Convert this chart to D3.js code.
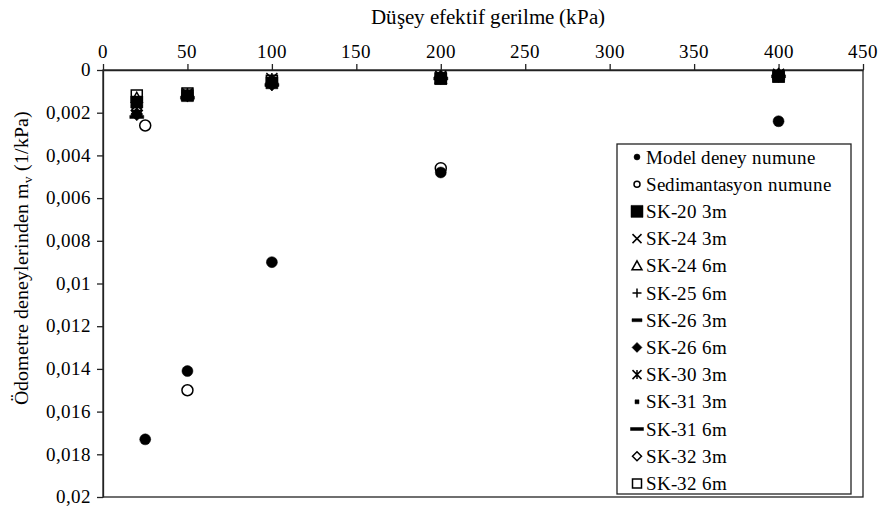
<!DOCTYPE html>
<html>
<head>
<meta charset="utf-8">
<script src="https://d3js.org/d3.v7.min.js"></script>
<style>
  @font-face { font-family: "ChartSerif"; src: local("Liberation Serif"), local("LiberationSerif"), local("LiberationSerif-Regular"), local("Tinos"), local("Times New Roman"); }
</style>
</head>
<body style="margin:0">
<script>

// x values (kPa) and mv values (1/kPa)
var xModel = [25, 50, 100, 200, 400];
var model = [0.0173, 0.0141, 0.0090, 0.0048, 0.0024];
var xSed = [25, 50, 200];
var sed = [0.0026, 0.0150, 0.0046];

var xSK = [20, 50, 100, 200, 400];
var sk20_3 = [0.0015, 0.0012, 0.0006, 0.0004, 0.0003];
var sk24_3 = [0.0016, 0.0012, 0.0006, 0.0004, 0.0002];
var sk24_6 = [0.0013, 0.0012, 0.0005, 0.0004, 0.0002];
var sk25_6 = [0.0019, 0.0012, 0.0007, 0.0004, 0.0003];
var sk26_3 = [0.0017, 0.0011, 0.0006, 0.0003, 0.0002];
var sk26_6 = [0.0021, 0.0012, 0.0007, 0.0004, 0.0003];
var sk30_3 = [0.0018, 0.0011, 0.0004, 0.0003, 0.0002];
var sk31_3 = [0.0020, 0.0012, 0.0006, 0.0004, 0.0003];
var sk31_6 = [0.0022, 0.0013, 0.0007, 0.0004, 0.0003];
var sk32_3 = [0.0019, 0.0012, 0.0006, 0.0003, 0.0002];
var sk32_6 = [0.0012, 0.0011, 0.0005, 0.0004, 0.0003];

var xTicks = [0, 50, 100, 150, 200, 250, 300, 350, 400, 450];
var yTicks = [0, 0.002, 0.004, 0.006, 0.008, 0.01, 0.012, 0.014, 0.016, 0.018, 0.02];

var series = [
  {name: "Model deney numune", x: xModel, y: model, m: "circle"},
  {name: "Sedimantasyon numune", x: xSed, y: sed, m: "ocircle"},
  {name: "SK-20 3m", x: xSK, y: sk20_3, m: "square"},
  {name: "SK-24 3m", x: xSK, y: sk24_3, m: "x"},
  {name: "SK-24 6m", x: xSK, y: sk24_6, m: "triangle"},
  {name: "SK-25 6m", x: xSK, y: sk25_6, m: "plus"},
  {name: "SK-26 3m", x: xSK, y: sk26_3, m: "dash"},
  {name: "SK-26 6m", x: xSK, y: sk26_6, m: "diamond"},
  {name: "SK-30 3m", x: xSK, y: sk30_3, m: "asterisk"},
  {name: "SK-31 3m", x: xSK, y: sk31_3, m: "dot"},
  {name: "SK-31 6m", x: xSK, y: sk31_6, m: "longdash"},
  {name: "SK-32 3m", x: xSK, y: sk32_3, m: "odiamond"},
  {name: "SK-32 6m", x: xSK, y: sk32_6, m: "osquare"}
];

var width = 882, height = 515;
var plotL = 103, plotR = 863, plotT = 70, plotB = 497;
var serif = "ChartSerif, 'Liberation Serif', Tinos, 'Times New Roman', Times, monospace";

var svg = d3.select("body").append("svg")
    .attr("width", width)
    .attr("height", height);

var x = d3.scaleLinear().domain([0, 450]).range([plotL, plotR]);
var y = d3.scaleLinear().domain([0, 0.02]).range([plotT, plotB]);

var fmt = function(d) { return String(+d.toFixed(3)).replace(".", ","); };

// plain text helper, serif like the original
function label(px, py, str, size) {
  return svg.append("text")
      .attr("x", px).attr("y", py)
      .attr("font-size", size)
      .style("font-family", serif)
      .text(str);
}

// frame round the plot
svg.append("rect")
    .attr("x", plotL).attr("y", plotT)
    .attr("width", plotR - plotL).attr("height", plotB - plotT)
    .attr("fill", "none").attr("stroke", "#222").attr("stroke-width", 1.3);

// axes: d3 draws ticks and lines, labels are drawn with the helper
var gx = svg.append("g")
    .attr("transform", "translate(0," + plotT + ")")
    .call(d3.axisTop(x).tickValues(xTicks).tickSize(6).tickSizeOuter(0).tickFormat(""));
var gy = svg.append("g")
    .attr("transform", "translate(" + plotL + ",0)")
    .call(d3.axisLeft(y).tickValues(yTicks).tickSize(6).tickSizeOuter(0).tickFormat(""));
[gx, gy].forEach(function(g) {
  g.selectAll("line, path").attr("stroke", "#222").attr("stroke-width", 1.3);
});

xTicks.forEach(function(t) {
  label(x(t), plotT - 12, String(t), 19).attr("text-anchor", "middle");
});
yTicks.forEach(function(t) {
  label(plotL - 12, y(t), fmt(t), 19).attr("text-anchor", "end").attr("dy", "0.33em");
});

// titles
label((plotL + plotR) / 2 + 5, 24, "Düşey efektif gerilme (kPa)", 21).attr("text-anchor", "middle");

var yl = label(0, 0, "", 20)
    .attr("transform", "translate(28,258) rotate(-90)")
    .attr("text-anchor", "middle");
yl.append("tspan").text("Ödometre deneylerinden m");
yl.append("tspan").attr("dy", 4).attr("font-size", 13).text("v");
yl.append("tspan").attr("dy", -4).text(" (1/kPa)");

// marker shapes
function marker(g, type, s) {
  var h = s / 2;
  var filled = ["circle", "square", "diamond", "dot", "dash", "longdash"].indexOf(type) >= 0;
  var p = d3.path();
  if (type == "circle" || type == "ocircle") {
    p.arc(0, 0, h, 0, 2 * Math.PI);
  } else if (type == "square" || type == "osquare") {
    p.rect(-h, -h, s, s);
  } else if (type == "diamond" || type == "odiamond") {
    p.moveTo(0, -h); p.lineTo(h, 0); p.lineTo(0, h); p.lineTo(-h, 0); p.closePath();
  } else if (type == "triangle") {
    p.moveTo(0, -h); p.lineTo(h, h * 0.8); p.lineTo(-h, h * 0.8); p.closePath();
  } else if (type == "x") {
    p.moveTo(-h, -h); p.lineTo(h, h); p.moveTo(h, -h); p.lineTo(-h, h);
  } else if (type == "plus") {
    p.moveTo(-h, 0); p.lineTo(h, 0); p.moveTo(0, -h); p.lineTo(0, h);
  } else if (type == "asterisk") {
    p.moveTo(-h, -h); p.lineTo(h, h); p.moveTo(h, -h); p.lineTo(-h, h);
    p.moveTo(0, -h); p.lineTo(0, h);
  } else if (type == "dot") {
    p.rect(-2, -2, 4, 4);
  } else if (type == "dash") {
    p.rect(-h, -1.5, s, 3);
  } else if (type == "longdash") {
    p.rect(-h - 1, -1.5, s + 2, 3);
  }
  g.append("path")
      .attr("d", p.toString())
      .attr("fill", filled ? "#000" : "none")
      .attr("stroke", "#000")
      .attr("stroke-width", filled ? 0.5 : 1.5);
}

var sizes = {circle: 11, ocircle: 11, square: 12, osquare: 11, diamond: 12, odiamond: 11,
             triangle: 11, x: 10, plus: 11, asterisk: 11, dot: 5, dash: 11, longdash: 12};

// points
series.forEach(function(sr) {
  sr.y.forEach(function(v, i) {
    var g = svg.append("g").attr("transform", "translate(" + x(sr.x[i]) + "," + y(v) + ")");
    marker(g, sr.m, sizes[sr.m]);
  });
});

// legend
var lx = 617, ly = 144, lw = 234, lh = 350;
svg.append("rect")
    .attr("x", lx).attr("y", ly).attr("width", lw).attr("height", lh)
    .attr("fill", "#fff").attr("stroke", "#222").attr("stroke-width", 1.3);

var legendSizes = {circle: 6, ocircle: 6, square: 12, osquare: 9, diamond: 10, odiamond: 9,
                   triangle: 10, x: 9, plus: 9, asterisk: 9, dot: 4, dash: 10, longdash: 11};

series.forEach(function(sr, i) {
  var ry = 157 + i * 27.2;
  var g = svg.append("g").attr("transform", "translate(637," + ry + ")");
  marker(g, sr.m, legendSizes[sr.m]);
  label(646, ry, sr.name, 19).attr("dy", "0.35em");
});

</script>
</body>
</html>
